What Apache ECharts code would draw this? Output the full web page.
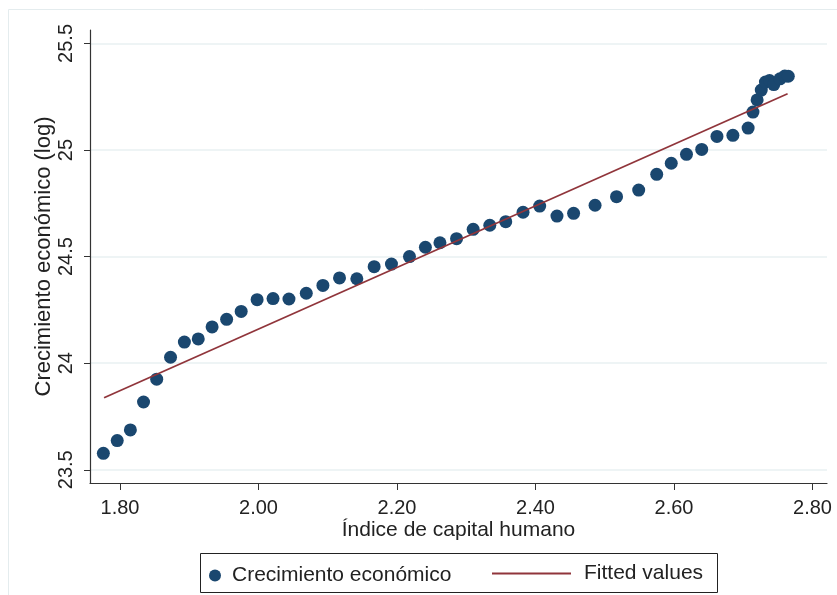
<!DOCTYPE html>
<html>
<head>
<meta charset="utf-8">
<script src="https://cdn.jsdelivr.net/npm/echarts@6/dist/echarts.min.js"></script>
<style>
  html, body { margin: 0; padding: 0; background: #fff; }
  #chart { width: 837px; height: 595px; }
</style>
</head>
<body>
<div id="chart"></div>
<script>
// indice de capital humano vs crecimiento (log)
var capitalX = [1.776, 1.796, 1.815, 1.834, 1.853, 1.873, 1.893, 1.913, 1.933, 1.954,
  1.975, 1.998, 2.021, 2.044, 2.069, 2.093, 2.117, 2.142, 2.167, 2.192,
  2.218, 2.241, 2.262, 2.286, 2.310, 2.334, 2.357, 2.382, 2.406, 2.431,
  2.455, 2.486, 2.517, 2.549, 2.575, 2.596, 2.618, 2.640, 2.662, 2.685,
  2.707, 2.714, 2.720, 2.726, 2.732, 2.738, 2.744, 2.753, 2.760, 2.765];
var crecimientoY = [23.577, 23.637, 23.687, 23.818, 23.925, 24.028, 24.099, 24.114, 24.170, 24.206,
  24.243, 24.298, 24.303, 24.301, 24.328, 24.365, 24.400, 24.396, 24.453, 24.465,
  24.500, 24.544, 24.565, 24.584, 24.628, 24.647, 24.664, 24.708, 24.737, 24.690,
  24.703, 24.741, 24.781, 24.812, 24.886, 24.938, 24.980, 25.003, 25.064, 25.069,
  25.103, 25.178, 25.235, 25.281, 25.319, 25.326, 25.307, 25.334, 25.347, 25.346];
// fitted line end points
var fitX = [1.777, 2.764];
var fitY = [23.838, 25.264];

var xTicks = [1.8, 2.0, 2.2, 2.4, 2.6, 2.8];
var yTicks = [23.5, 24, 24.5, 25, 25.5];

var scatterData = capitalX.map(function (x, i) { return [x, crecimientoY[i]]; });
var fitData = fitX.map(function (x, i) { return [x, fitY[i]]; });

var txt = '#222';
var font = 'Liberation Sans, Arial, sans-serif';

var chart = echarts.init(document.getElementById('chart'));
var option = {
  animation: false,
  backgroundColor: '#fff',
  textStyle: { fontFamily: font },
  grid: { left: 90, top: 30, right: 10, bottom: 112, containLabel: false },
  graphic: [
    {
      type: 'rect', z: -1, silent: true,
      shape: { x: 8.5, y: 9.5, width: 840, height: 600 },
      style: { fill: 'none', stroke: '#e4ecee', lineWidth: 1 }
    },
    {
      type: 'rect', silent: true,
      shape: { x: 200.5, y: 553.5, width: 517, height: 39 },
      style: { fill: '#fff', stroke: '#222', lineWidth: 1 }
    }
  ],
  xAxis: {
    type: 'value',
    min: 1.7567, max: 2.8209,
    name: 'Índice de capital humano',
    nameLocation: 'middle',
    nameGap: 37,
    nameMoveOverlap: false,
    nameTextStyle: { color: txt, fontSize: 21, fontFamily: font },
    axisLine: { show: true, lineStyle: { color: '#333', width: 1.2 } },
    axisTick: { show: true, length: 7, customValues: xTicks, lineStyle: { color: '#333' } },
    axisLabel: {
      customValues: xTicks, margin: 15, color: txt, fontSize: 20, fontFamily: font,
      formatter: function (v) { return v.toFixed(2); }
    },
    splitLine: { show: false }
  },
  yAxis: {
    type: 'value',
    min: 23.438, max: 25.563,
    name: 'Crecimiento económico (log)',
    nameLocation: 'middle',
    nameGap: 35,
    nameMoveOverlap: false,
    nameRotate: 90,
    nameTextStyle: { color: txt, fontSize: 22, fontFamily: font },
    axisLine: { show: true, lineStyle: { color: '#333', width: 1.2 } },
    axisTick: { show: true, length: 6, customValues: yTicks, lineStyle: { color: '#333' } },
    axisLabel: {
      customValues: yTicks, rotate: 90, margin: 14, color: txt, fontSize: 20, fontFamily: font
    },
    splitLine: { show: true, lineStyle: { color: '#e8f0f2', width: 1.5 } }
  },
  legend: [
    {
      data: ['Crecimiento económico'],
      left: 209, top: 565, padding: 0,
      icon: 'circle', itemWidth: 12, itemHeight: 12,
      textStyle: { color: txt, fontSize: 21, fontFamily: font, padding: [0, 0, 0, 6] },
      selectedMode: false
    },
    {
      data: ['Fitted values'],
      left: 492, top: 563, padding: 0,
      icon: 'rect', itemWidth: 79, itemHeight: 2,
      textStyle: { color: txt, fontSize: 21, fontFamily: font, padding: [0, 0, 0, 8] },
      selectedMode: false
    }
  ],
  series: [
    {
      name: 'Crecimiento económico',
      type: 'scatter',
      symbol: 'circle',
      symbolSize: 13,
      itemStyle: { color: '#1a476f', opacity: 1 },
      data: scatterData,
      z: 3
    },
    {
      name: 'Fitted values',
      type: 'line',
      symbol: 'none',
      color: '#90353b',
      lineStyle: { color: '#90353b', width: 1.8 },
      data: fitData,
      z: 4
    }
  ]
};
chart.setOption(option);
</script>
</body>
</html>
